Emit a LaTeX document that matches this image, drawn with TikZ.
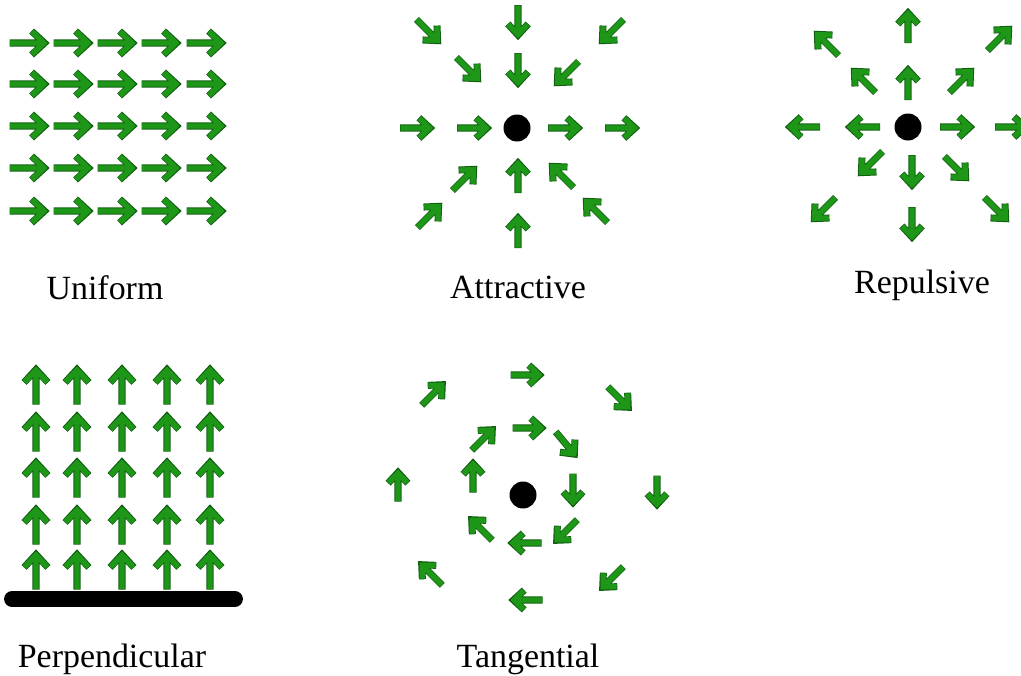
\documentclass[tikz,border=0pt]{standalone}
\usepackage{fontspec}
\setmainfont{Liberation Serif}
\definecolor{arrowgreen}{RGB}{30,150,24}
\definecolor{arrowedge}{RGB}{16,96,16}
\tikzset{
  % field arrow pointing along +x, half length #1 (in px units)
  pics/fa/.style={code={
    \draw[arrowedge, line width=4.0pt, line cap=butt, line join=miter, miter limit=4]
      (-#1,0) -- (#1,0)
      ({0.26*#1},{0.68*#1}) -- (#1,0) -- ({0.26*#1},{-0.68*#1});
    \draw[arrowgreen, line width=3.1pt, line cap=butt, line join=miter, miter limit=4]
      (-#1+0.5,0) -- (#1-0.7,0)
      ({0.26*#1+0.5},{0.68*#1-0.5}) -- (#1-0.7,0) -- ({0.26*#1+0.5},{-0.68*#1+0.5});
  }},
  lbl/.style={anchor=base, inner sep=0pt, font=\fontsize{19.3}{23}\selectfont},
  dot/.style={fill=black}
}
\begin{document}
\begin{tikzpicture}[x=0.02cm, y=-0.02cm]
\clip (0,0) rectangle (1021,676);
\fill[white] (0,0) rectangle (1021,676);

% uniform field
\foreach \x in {27,71,115,159,204}
  \foreach \y in {43,84,126,168,211}
    \pic at (\x,\y) {fa=17.5};
\node[lbl] (uniform) at (105,299) {Uniform};

% attractive field
\fill[dot] (517,128) circle (13.5);
\foreach \x/\y/\a in {427/30/-45, 518/20/-90, 613/30/-135,
                      467/68/-45, 518/68/-90, 568/72/-135,
                      415/128/0, 472/128/0, 563/128/0, 620/128/0,
                      463/180/45, 518/178/90, 563/177/135,
                      428/217/45, 518/233/90, 597/212/135}
  \pic[rotate=\a] at (\x,\y) {fa=15};
\node[lbl] (attractive) at (518,298) {Attractive};

% repulsive field
\fill[dot] (908,127) circle (13.5);
\foreach \x/\y/\a in {908/28/90, 828/45/135, 998/40/45,
                      865/82/135, 908/85/90, 960/82/45,
                      805/127/180, 865/127/180, 955/127/0, 1010/127/0,
                      872/162/-135, 912/170/-90, 955/167/-45,
                      825/208/-135, 912/222/-90, 995/208/-45}
  \pic[rotate=\a] at (\x,\y) {fa=15};
\node[lbl] (repulsive) at (922,293) {Repulsive};

% perpendicular field above a wall
\foreach \x in {36,77,122,167,210}
  \foreach \y in {387,434,480,527,572}
    \pic[rotate=90] at (\x,\y) {fa=17.5};
\draw[black, line width=9pt, line cap=round] (12,599) -- (235,599);
\node[lbl] (perpendicular) at (112,667) {Perpendicular};

% tangential field
\fill[dot] (523,495) circle (13.5);
\foreach \x/\y/\a in {525/375/0, 618/397/-45, 657/490/-90, 613/577/-135,
                      528/600/180, 432/575/135, 398/487/90, 432/395/45,
                      527/428/0, 565/443/-50, 573/488/-90, 567/530/-135,
                      527/543/180, 482/530/135, 473/478/90, 482/440/45}
  \pic[rotate=\a] at (\x,\y) {fa=14.5};
\node[lbl] (tangential) at (528,667) {Tangential};
\end{tikzpicture}
\end{document}
